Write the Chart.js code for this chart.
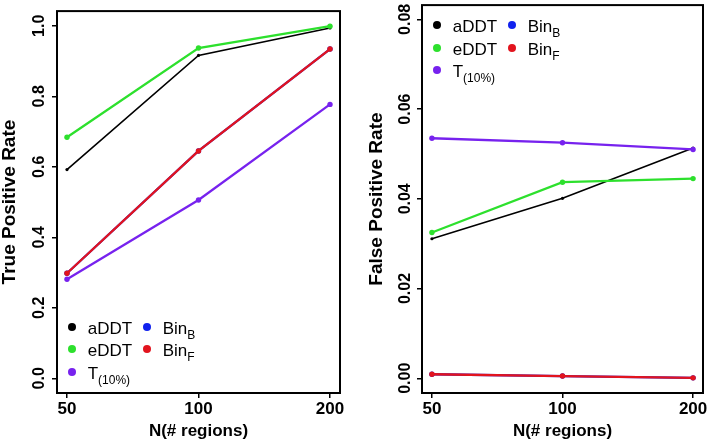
<!DOCTYPE html>
<html>
<head>
<meta charset="utf-8">
<script src="https://cdn.jsdelivr.net/npm/chart.js@4.4.1/dist/chart.umd.min.js"></script>
<style>
  html, body { margin: 0; padding: 0; background: #fff; }
  #wrap { position: relative; width: 709px; height: 443px; overflow: hidden; font-family: "Liberation Sans", Arial, sans-serif; }
  .cv { position: absolute; top: 0; }
  .leg-dot { position: absolute; width: 8px; height: 8px; border-radius: 50%; }
  .leg-txt { position: absolute; font-size: 17px; line-height: 20px; white-space: nowrap; color: #000; }
  .leg-txt sub { font-size: 12px; vertical-align: -5px; line-height: 0; }
</style>
</head>
<body>
<div id="wrap">
  <div class="cv" style="left:0;width:360px;height:443px;"><canvas id="c1"></canvas></div>
  <div class="cv" style="left:360px;width:349px;height:443px;"><canvas id="c2"></canvas></div>
</div>
<script>
// ---- data ----
const categories = ['50', '100', '200'];
const seriesNames = ['aDDT', 'eDDT', 'T', 'Bin', 'Bin'];
const seriesSubs = ['', '', '(10%)', 'B', 'F'];
const seriesColors = ['#000000', '#2de02d', '#7722ee', '#1122ee', '#e2141e'];

// True Positive Rate
const tprADDT = [0.592, 0.916, 0.994];
const tprEDDT = [0.684, 0.937, 0.999];
const tprT10  = [0.281, 0.506, 0.777];
const tprBinB = [0.298, 0.645, 0.934];
const tprBinF = [0.298, 0.645, 0.934];

// False Positive Rate
const fprADDT = [0.0311, 0.0401, 0.0513];
const fprEDDT = [0.0325, 0.0437, 0.0445];
const fprT10  = [0.0535, 0.0525, 0.0510];
const fprBinB = [0.0009, 0.0005, 0.0001];
const fprBinF = [0.0009, 0.0005, 0.0001];

const tprTicks = [0, 0.2, 0.4, 0.6, 0.8, 1.0];
const tprTickLabels = ['0.0', '0.2', '0.4', '0.6', '0.8', '1.0'];
const fprTicks = [0, 0.02, 0.04, 0.06, 0.08];
const fprTickLabels = ['0.00', '0.02', '0.04', '0.06', '0.08'];

// ---- chart construction ----
Chart.defaults.font.family = '"Liberation Sans", Arial, sans-serif';
Chart.defaults.color = '#000';

function toPoints(vals) { return vals.map((v, i) => ({ x: i, y: v })); }

function makeDatasets(series) {
  return series.map((vals, i) => ({
    label: seriesNames[i] + seriesSubs[i],
    data: toPoints(vals),
    borderColor: seriesColors[i],
    backgroundColor: seriesColors[i],
    borderWidth: i === 0 ? 1.6 : 2.3,
    pointRadius: i === 0 ? 1.6 : 2.7,
    pointBorderWidth: 0,
    pointHoverRadius: 0,
    tension: 0,
    order: series.length - i
  }));
}

const boxPlugin = {
  id: 'box',
  afterDraw(chart) {
    const a = chart.chartArea, ctx = chart.ctx;
    ctx.save();
    ctx.strokeStyle = '#000';
    ctx.lineWidth = 2;
    ctx.strokeRect(a.left, a.top, a.right - a.left, a.bottom - a.top);
    ctx.restore();
  }
};

function makeChart(id, series, yMin, yMax, yTicks, yLabels, yTitle, yAxisWidth, padRight, titlePad, yTickPad) {
  return new Chart(document.getElementById(id), {
    type: 'line',
    data: { datasets: makeDatasets(series) },
    plugins: [boxPlugin],
    options: {
      responsive: true,
      maintainAspectRatio: false,
      animation: false,
      layout: { padding: { top: 3, right: padRight, left: 0, bottom: 0 } },
      plugins: { legend: { display: false }, tooltip: { enabled: false } },
      scales: {
        x: {
          type: 'linear',
          min: -0.076, max: 2.076,
          afterBuildTicks: s => { s.ticks = categories.map((c, i) => ({ value: i })); },
          afterFit: s => { s.height = 50; },
          ticks: {
            callback: v => categories[v],
            font: { size: 17, weight: 'bold' },
            padding: 1,
            maxRotation: 0, minRotation: 0
          },
          grid: { display: true, drawOnChartArea: false, drawTicks: true, tickLength: 5, color: '#000', lineWidth: 1.5 },
          border: { display: false },
          title: { display: true, text: 'N(# regions)', font: { size: 17, weight: 'bold', lineHeight: 1 }, padding: { top: 0, bottom: 3.5 } }
        },
        y: {
          type: 'linear',
          min: yMin, max: yMax,
          afterBuildTicks: s => { s.ticks = yTicks.map(v => ({ value: v })); },
          afterFit: s => { s.width = yAxisWidth; },
          ticks: {
            callback: (v, i) => yLabels[i],
            font: { size: 16, weight: 'bold' },
            minRotation: 90, maxRotation: 90,
            crossAlign: 'center',
            padding: yTickPad
          },
          grid: { display: true, drawOnChartArea: false, drawTicks: true, tickLength: 5, color: '#000', lineWidth: 1.5 },
          border: { display: false },
          title: { display: true, text: yTitle, font: { size: 19, weight: 'bold', lineHeight: 1 }, padding: { top: titlePad, bottom: 0 } }
        }
      }
    }
  });
}

makeChart('c1', [tprADDT, tprEDDT, tprT10, tprBinB, tprBinF], -0.0417, 1.0417,
  tprTicks, tprTickLabels, 'True Positive Rate', 57, 20, 0.5, 1.5);
makeChart('c2', [fprADDT, fprEDDT, fprT10, fprBinB, fprBinF], -0.00328, 0.08317,
  fprTicks, fprTickLabels, 'False Positive Rate', 62, 6, 7.5, -4.5);

// ---- HTML legends (for subscripts) ----
const legendLayouts = [
  { x1: 71.7, x2: 146.7, y0: 326.7, dy: 22.5 },
  { x1: 436.7, x2: 511.7, y0: 25, dy: 22.5 }
];
const legendSlots = [[0, 0], [0, 1], [0, 2], [1, 0], [1, 1]]; // [col,row] for each series
const wrap = document.getElementById('wrap');
legendLayouts.forEach(L => {
  seriesNames.forEach((name, i) => {
    const [col, row] = legendSlots[i];
    const cx = col === 0 ? L.x1 : L.x2;
    const cy = L.y0 + row * L.dy;
    const dot = document.createElement('div');
    dot.className = 'leg-dot';
    dot.style.left = (cx - 4) + 'px';
    dot.style.top = (cy - 4) + 'px';
    dot.style.background = seriesColors[i];
    wrap.appendChild(dot);
    const t = document.createElement('div');
    t.className = 'leg-txt';
    t.style.left = (cx + 16) + 'px';
    t.style.top = (cy + 2 - 10) + 'px';
    t.textContent = name;
    if (seriesSubs[i]) {
      const s = document.createElement('sub');
      s.textContent = seriesSubs[i];
      t.appendChild(s);
    }
    wrap.appendChild(t);
  });
});
</script>
</body>
</html>
